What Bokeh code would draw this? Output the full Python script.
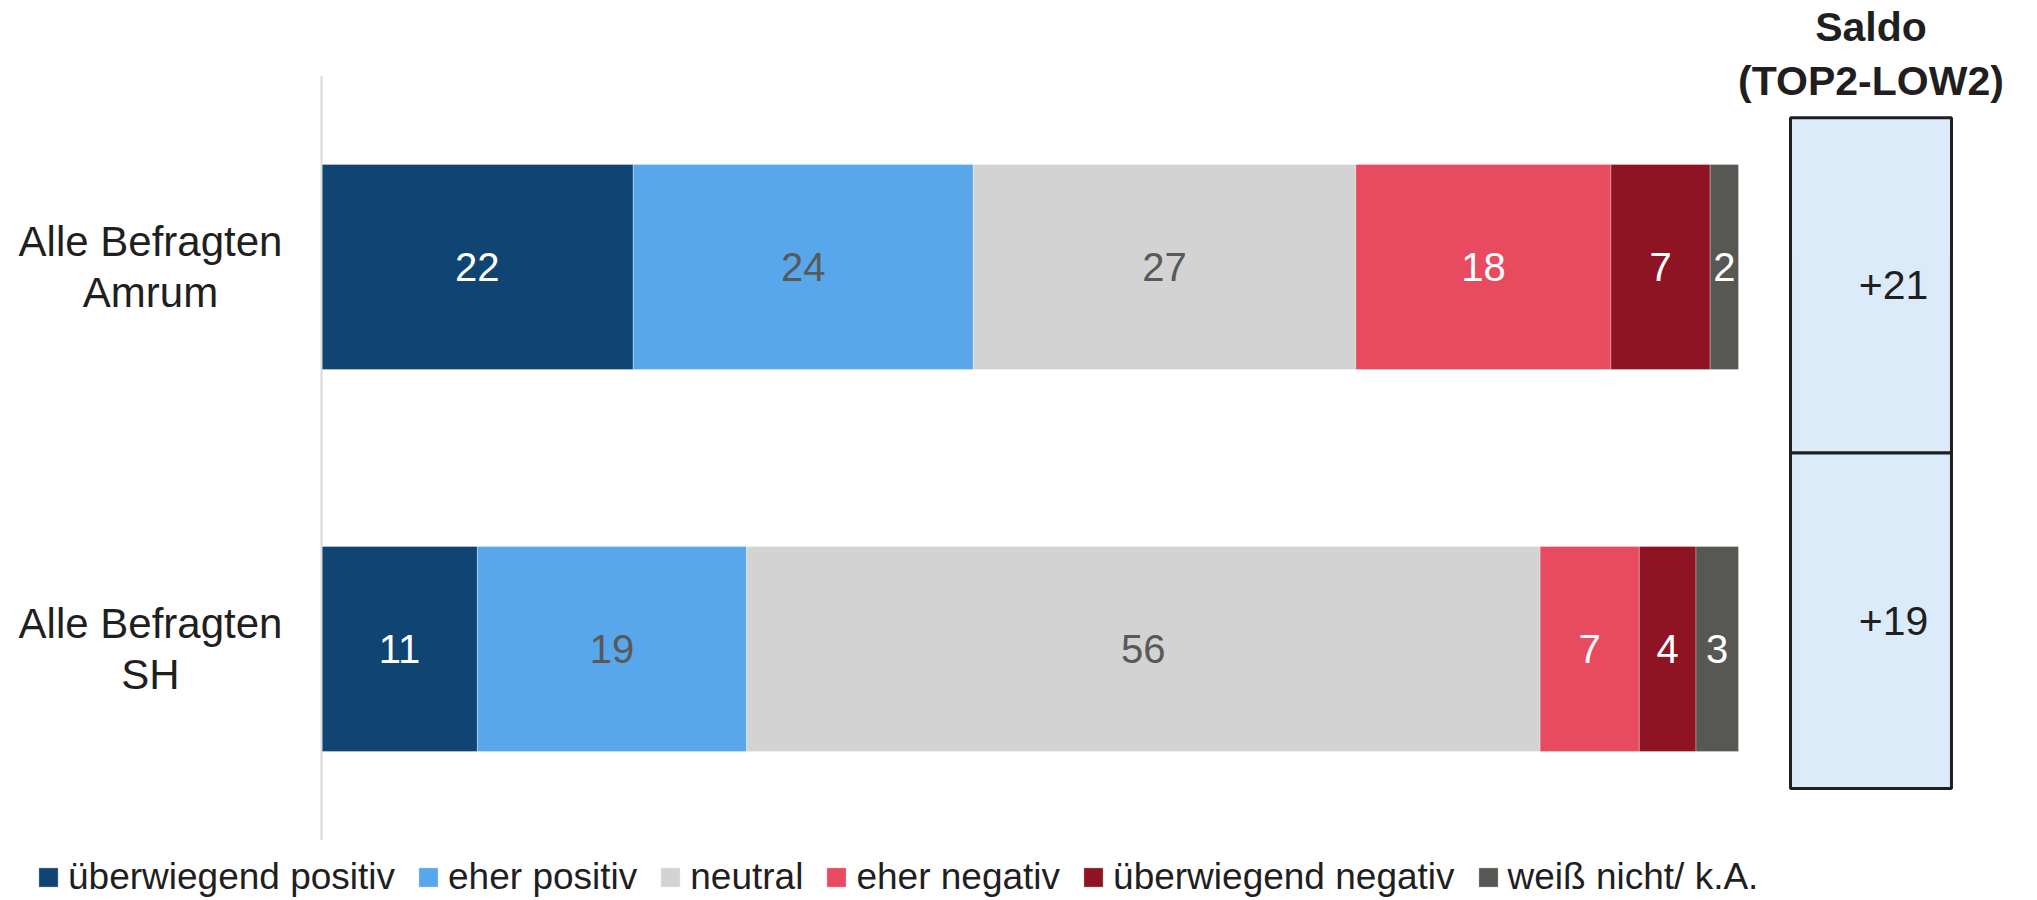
import numpy as np
from bokeh.plotting import figure
from bokeh.models import ColumnDataSource, Range1d
from bokeh.core.properties import value
from bokeh.embed import file_html
from bokeh.resources import INLINE

# ---------------- data ----------------
rows = ["Alle Befragten\nAmrum", "Alle Befragten\nSH"]
row_pos = [1, 0]
answers = ["überwiegend positiv", "eher positiv", "neutral",
           "eher negativ", "überwiegend negativ", "weiß nicht/ k.A."]
ueberwiegend_positiv = [22, 11]
eher_positiv = [24, 19]
neutral = [27, 56]
eher_negativ = [18, 7]
ueberwiegend_negativ = [7, 4]
weiss_nicht = [2, 3]
saldo = [21, 19]
saldo_title = ["Saldo", "(TOP2-LOW2)"]

colors = ["#0F4473", "#58A7EA", "#D3D3D3", "#E84B5F", "#8E1423", "#575853"]
label_colors = ["#FFFFFF", "#595959", "#595959", "#FFFFFF", "#FFFFFF", "#FFFFFF"]

series = [ueberwiegend_positiv, eher_positiv, neutral,
          eher_negativ, ueberwiegend_negativ, weiss_nicht]
keys = ["s%d" % i for i in range(len(series))]

# ---------------- layout ----------------
W, H = 2035, 898
px_x = 14.17          # pixels per percent
px_y = 382.0          # pixels per category step
x0_px = 321.0         # canvas x of value 0
y0_px = 648.5         # canvas y of bottom category
FONT = value("Liberation Sans")

p = figure(width=W, height=H, output_backend="svg", toolbar_location=None,
           x_range=Range1d(-x0_px / px_x, (W - x0_px) / px_x),
           y_range=Range1d(-(H - y0_px) / px_y, y0_px / px_y),
           min_border=0, outline_line_color=None)
p.axis.visible = False
p.grid.visible = False
p.background_fill_color = "white"
p.border_fill_color = "white"

data = {"y": row_pos}
for k, s in zip(keys, series):
    data[k] = s
src = ColumnDataSource(data)

bar_h = 205 / px_y
p.hbar_stack(keys, y="y", height=bar_h, color=colors, source=src,
             legend_label=answers, line_color="white", line_width=0.6, line_alpha=0.5)

# value labels
arr = np.array(series, dtype=float)  # shape (6, 2)
cum = np.cumsum(arr, axis=0)
centers = cum - arr / 2
lx, ly, lt, lc = [], [], [], []
for i in range(arr.shape[0]):
    for j in range(arr.shape[1]):
        lx.append(centers[i, j])
        ly.append(row_pos[j])
        lt.append(str(int(arr[i, j])))
        lc.append(label_colors[i])
p.text(x=lx, y=ly, text=lt, text_color=lc, text_align="center",
       text_baseline="middle", text_font=FONT, text_font_size="40px")

# vertical axis line
p.segment(x0=[0], y0=[min(row_pos) - 0.5], x1=[0], y1=[max(row_pos) + 0.5],
          line_color="#D9D9D9", line_width=2)

# category labels
p.text(x=[-12.07] * len(rows), y=row_pos, text=rows, text_align="center",
       text_baseline="middle", text_font=FONT, text_font_size="42px",
       text_color="#1F1F1F", text_line_height=1.1)

# Saldo boxes
box_left, box_right = 103.67, 115.03
box_h = 0.878
box_mid = 0.513
mean_y = np.mean(row_pos)
box_c = [box_mid + (y - mean_y) * box_h for y in row_pos]
p.rect(x=[(box_left + box_right) / 2] * len(rows), y=box_c,
       width=box_right - box_left, height=box_h,
       fill_color="#DCEBFA", line_color="#1F1F1F", line_width=3)
p.text(x=[113.4] * len(rows), y=box_c, text=["%+d" % s for s in saldo],
       text_align="right", text_baseline="middle", text_font=FONT,
       text_font_size="41px", text_color="#1F1F1F")

# Saldo title
p.text(x=[(box_left + box_right) / 2] * 2, y=[1.627, 1.488], text=saldo_title,
       text_align="center", text_baseline="middle", text_font=FONT,
       text_font_size="41px", text_font_style="bold", text_color="#1F1F1F")

# legend (bar legend glyphs are drawn inset by 10% on each side)
lg = p.legend[0]
lg.orientation = "horizontal"
lg.location = (36, 0)
lg.padding = 0
lg.margin = 0
lg.spacing = 21
lg.label_standoff = 8
lg.glyph_width = 24
lg.glyph_height = 24
lg.label_height = 24
lg.label_text_font = "Liberation Sans"
lg.label_text_font_size = "37px"
lg.label_text_color = "#1F1F1F"
lg.background_fill_alpha = 0
lg.border_line_alpha = 0

open("out.html", "w").write(file_html(p, INLINE))
